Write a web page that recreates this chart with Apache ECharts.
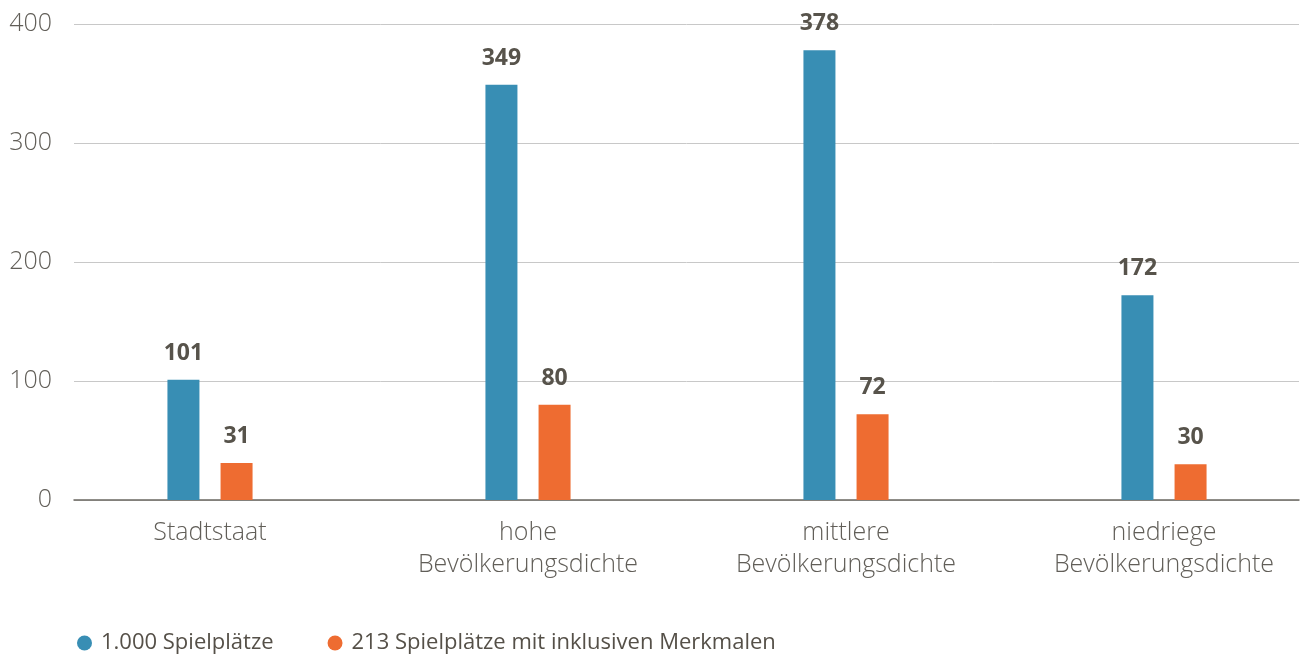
<!DOCTYPE html>
<html>
<head>
<meta charset="utf-8">
<script src="https://cdn.jsdelivr.net/npm/echarts@6/dist/echarts.min.js"></script>
<style>
  html, body { margin: 0; padding: 0; background: #fff; }
  #chartDiv { width: 1303px; height: 657px; }
</style>
</head>
<body>
<div id="chartDiv"></div>
<script>
var myChart = echarts.init(document.getElementById('chartDiv'));

var categories = ['Stadtstaat', 'hohe\nBevölkerungsdichte', 'mittlere\nBevölkerungsdichte', 'niedriege\nBevölkerungsdichte'];
var seriesNames = ['1.000 Spielplätze', '213 Spielplätze mit inklusiven Merkmalen'];
var allPlaygrounds = [101, 349, 378, 172];
var inclusivePlaygrounds = [31, 80, 72, 30];
var yTicks = [0, 100, 200, 300, 400];

var textColor = '#615e58';
var labelColor = '#57534b';
var fontFamily = '"Open Sans", "Noto Sans", sans-serif';

var barLabel = {
    show: true,
    position: 'top',
    distance: 15,
    color: labelColor,
    fontSize: 23,
    fontWeight: 'bold',
    fontFamily: fontFamily
};

option = {
    backgroundColor: '#fff',
    animation: false,
    legend: {
        left: 72,
        top: 627,
        icon: 'circle',
        itemWidth: 15,
        itemHeight: 15,
        itemGap: 54,
        textStyle: {
            color: '#555048',
            fontSize: 22,
            fontFamily: fontFamily,
            padding: [0, 0, 0, 4]
        },
        data: seriesNames
    },
    // grid 0 carries the y axis and the horizontal lines, grid 1 the bars
    grid: [
        {left: 74, right: 4, top: 24, bottom: 157, outerBoundsMode: 'none'},
        {left: 51, width: 1272, top: 24, bottom: 157, outerBoundsMode: 'none'}
    ],
    xAxis: [
        {
            gridIndex: 0,
            type: 'value',
            min: 0,
            max: 1,
            axisLine: {show: true, onZero: false, lineStyle: {color: '#6b6862', width: 1.5}},
            axisTick: {show: false},
            axisLabel: {show: false},
            splitLine: {show: false}
        },
        {
            gridIndex: 1,
            type: 'category',
            data: categories,
            axisLine: {show: false},
            axisTick: {show: false},
            axisLabel: {
                margin: 17,
                color: textColor,
                fontSize: 25,
                fontWeight: 300,
                lineHeight: 32,
                fontFamily: fontFamily
            }
        }
    ],
    yAxis: [
        {
            gridIndex: 0,
            type: 'value',
            min: yTicks[0],
            max: yTicks[yTicks.length - 1],
            interval: 100,
            axisLine: {show: false},
            axisTick: {show: false},
            axisLabel: {
                margin: 22,
                color: textColor,
                fontSize: 25,
                fontWeight: 300,
                fontFamily: fontFamily
            },
            splitLine: {lineStyle: {color: '#c8c8c8', width: 1}}
        },
        {
            gridIndex: 1,
            type: 'value',
            min: yTicks[0],
            max: yTicks[yTicks.length - 1],
            show: false,
            splitLine: {show: false}
        }
    ],
    series: [
        {
            name: seriesNames[0],
            type: 'bar',
            xAxisIndex: 1,
            yAxisIndex: 1,
            data: allPlaygrounds,
            barWidth: 32,
            barGap: '66%',
            itemStyle: {color: '#388eb4'},
            label: barLabel
        },
        {
            name: seriesNames[1],
            type: 'bar',
            xAxisIndex: 1,
            yAxisIndex: 1,
            data: inclusivePlaygrounds,
            barWidth: 32,
            itemStyle: {color: '#ee6c31'},
            label: barLabel
        }
    ]
};
myChart.setOption(option);
</script>
</body>
</html>
